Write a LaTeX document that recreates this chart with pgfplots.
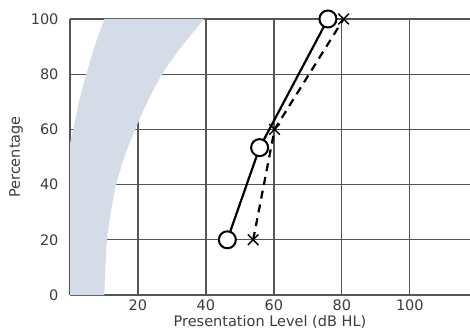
\documentclass[border=0pt]{standalone}
\usepackage{pgfplots}
\pgfplotsset{compat=1.18}
\usepgfplotslibrary{fillbetween}
\usepackage{fontspec}
\setmainfont{DejaVu Sans}
\definecolor{band}{RGB}{213,219,231}
\definecolor{gridc}{RGB}{85,85,85}
\definecolor{txt}{RGB}{60,60,60}
\begin{document}
\begin{tikzpicture}[x=1pt,y=1pt]
\begin{axis}[
  set layers,
  scale only axis, width=400pt, height=276pt,
  xmin=0, xmax=117.7, ymin=0, ymax=100,
  axis lines*=left,
  axis line style={gridc, line width=1.2pt},
  xtick={20,40,60,80,100}, ytick={0,20,40,60,80,100},
  grid=major,
  grid style={gridc, line width=1.2pt},
  major tick length=0pt,
  tick label style={font=\fontsize{14.5}{16}\selectfont, text=txt},
  label style={font=\fontsize{14.5}{16}\selectfont, text=txt},
  /pgf/number format/assume math mode=true,
  xlabel={Presentation Level (dB HL)},
  ylabel={Percentage},
  xlabel style={yshift=2pt},
  ylabel style={yshift=1pt},
  xticklabel style={yshift=-1pt},
  yticklabel style={xshift=-8pt},
]
\addplot[name path=R, draw=none, smooth] coordinates {
 (10.1,0) (10.4,10) (10.9,20) (12.0,30) (13.6,40) (16.0,50) (19.2,60) (22.8,70) (27.1,80) (32.8,90) (39.5,100)
};
\addplot[name path=L, draw=none] coordinates {
 (0,0) (0,55) (1.0,60) (2.6,70) (4.8,80) (7.2,90) (10.1,100)
};
\addplot[band, on layer=axis background] fill between[of=R and L];
\addplot[black, line width=2.2pt, mark=*, mark size=8.5pt, mark options={fill=white, draw=black, line width=2pt}] coordinates {
 (46.3,20) (55.8,53.4) (75.9,100)
};
\addplot[black, line width=2.2pt, dashed, dash pattern=on 8pt off 6pt, mark=x, mark size=7.5pt, mark options={solid, line width=1.4pt}] coordinates {
 (53.9,20) (60.2,60) (80.5,100)
};
\end{axis}
\pgfresetboundingbox
\path (-70,-39) rectangle (400,295);
\end{tikzpicture}
\end{document}
